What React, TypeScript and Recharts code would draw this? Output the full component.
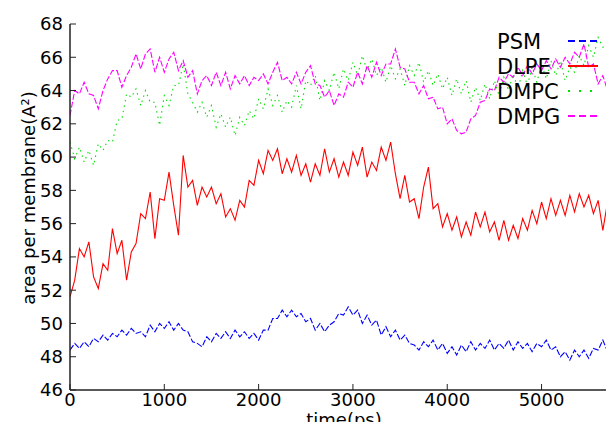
import { LineChart, Line, XAxis, YAxis, Legend } from "recharts";

// simulation time (ps), one sample every 50 ps
const TIME = [
  0, 50, 100, 150, 200, 250, 300, 350, 400, 450,
  500, 550, 600, 650, 700, 750, 800, 850, 900, 950,
  1000, 1050, 1100, 1150, 1200, 1250, 1300, 1350, 1400, 1450,
  1500, 1550, 1600, 1650, 1700, 1750, 1800, 1850, 1900, 1950,
  2000, 2050, 2100, 2150, 2200, 2250, 2300, 2350, 2400, 2450,
  2500, 2550, 2600, 2650, 2700, 2750, 2800, 2850, 2900, 2950,
  3000, 3050, 3100, 3150, 3200, 3250, 3300, 3350, 3400, 3450,
  3500, 3550, 3600, 3650, 3700, 3750, 3800, 3850, 3900, 3950,
  4000, 4050, 4100, 4150, 4200, 4250, 4300, 4350, 4400, 4450,
  4500, 4550, 4600, 4650, 4700, 4750, 4800, 4850, 4900, 4950,
  5000, 5050, 5100, 5150, 5200, 5250, 5300, 5350, 5400, 5450,
  5500, 5550, 5600, 5650, 5700, 5750,
];

// area per lipid (A^2)
const PSM = [
  48.4, 48.8, 48.5, 48.9, 48.6, 49.1, 48.9, 49.3, 49.0, 49.4,
  49.2, 49.6, 49.3, 49.7, 49.4, 49.5, 49.2, 49.9, 49.5, 50.0,
  49.7, 50.1, 49.6, 50.0, 49.6, 49.5, 48.9, 48.8, 48.6, 49.2,
  48.9, 49.4, 49.1, 49.5, 49.1, 49.6, 49.2, 49.5, 49.1, 49.4,
  49.0, 49.6, 49.6, 50.3, 50.3, 50.8, 50.4, 50.8, 50.4, 50.6,
  50.1, 50.3, 49.6, 50.0, 49.5, 49.9, 50.1, 50.6, 50.5, 51.0,
  50.5, 50.8, 50.0, 50.5, 49.9, 50.2, 49.3, 49.8, 49.2, 49.6,
  49.0, 49.3, 48.8, 48.7, 48.4, 48.9, 48.6, 49.0, 48.4, 48.8,
  48.2, 48.6, 48.1, 48.7, 48.3, 48.9, 48.4, 48.8, 48.5, 49.0,
  48.4, 48.8, 48.5, 49.0, 48.4, 48.9, 48.5, 48.8, 48.3, 48.8,
  48.6, 49.0, 48.4, 48.6, 48.0, 48.3, 47.8, 48.4, 48.0, 48.4,
  47.9, 48.5, 48.4, 49.0, 48.3, 48.7,
];

const DLPE = [
  51.6, 52.6, 54.5, 54.0, 54.9, 52.8, 52.1, 53.6, 53.2, 55.7,
  54.2, 55.0, 52.6, 54.3, 54.8, 56.6, 56.3, 57.9, 55.1, 57.5,
  57.4, 59.1, 57.1, 55.3, 60.1, 58.2, 58.6, 57.1, 58.2, 57.6,
  58.2, 57.2, 57.8, 56.4, 56.9, 56.2, 57.4, 57.0, 58.6, 58.3,
  59.8, 59.0, 60.4, 59.8, 60.5, 59.0, 59.9, 59.1, 60.1, 58.9,
  59.6, 58.5, 59.6, 58.9, 60.5, 59.1, 59.9, 58.8, 59.7, 58.9,
  60.3, 59.5, 60.6, 58.8, 59.7, 59.2, 60.6, 59.8, 60.9, 59.0,
  57.5, 58.9, 57.3, 57.5, 56.3, 58.2, 59.4, 56.9, 57.2, 55.8,
  56.6, 55.6, 56.4, 55.2, 56.1, 55.3, 56.7, 55.8, 56.7, 55.5,
  56.1, 55.0, 56.2, 55.0, 55.9, 55.1, 56.3, 55.6, 56.8, 56.0,
  57.3, 56.3, 57.5, 56.5, 57.4, 56.5, 57.7, 56.7, 57.8, 57.0,
  57.7, 56.6, 57.4, 55.6, 57.3, 58.1,
];

const DMPC = [
  60.9, 59.9, 60.6, 59.7, 60.4, 59.5, 60.8, 60.4, 61.0, 60.9,
  62.2, 62.3, 63.8, 63.6, 64.1, 63.1, 64.0, 63.3, 63.3, 61.9,
  63.7, 63.1, 64.3, 64.3, 65.6, 63.8, 63.3, 62.7, 63.3, 62.4,
  63.1, 61.8, 62.6, 61.8, 62.4, 61.3, 62.4, 61.9, 62.8, 62.3,
  63.5, 62.9, 64.1, 63.1, 63.7, 62.7, 63.4, 63.0, 64.3, 62.9,
  64.6, 64.3, 64.9, 63.4, 64.6, 64.0, 65.1, 64.1, 65.3, 64.6,
  65.7, 64.9, 66.1, 65.2, 65.9, 64.9, 65.4, 64.5, 65.5, 64.7,
  65.3, 64.3, 65.5, 64.9, 65.7, 64.5, 65.2, 64.3, 65.0, 64.1,
  64.8, 63.7, 64.7, 63.8, 64.6, 63.3, 64.2, 63.4, 64.4, 63.5,
  64.6, 63.7, 64.8, 64.0, 65.0, 64.1, 65.2, 64.3, 65.4, 64.5,
  65.6, 64.7, 65.8, 64.9, 65.8, 64.6, 65.4, 65.1, 66.1, 65.5,
  66.7, 66.0, 67.2, 66.6, 66.8, 65.7,
];

const DMPG = [
  62.5, 64.0, 63.8, 64.5, 63.8, 63.7, 62.9, 64.0, 64.7, 65.2,
  65.2, 64.2, 64.9, 65.4, 66.2, 65.3, 66.2, 66.5, 65.1, 66.0,
  65.1, 65.9, 66.3, 65.2, 65.8, 64.8, 65.2, 63.8, 64.6, 64.9,
  64.3, 65.1, 64.3, 65.1, 64.1, 64.9, 64.4, 64.9, 64.3, 64.8,
  64.6, 65.0, 64.4, 65.1, 65.7, 64.6, 64.8, 64.4, 65.1, 64.4,
  65.1, 65.5, 64.4, 64.3, 63.6, 64.0, 63.1, 63.8, 63.6, 64.5,
  64.2, 65.1, 64.4, 65.5, 64.8, 65.7, 64.9, 65.6, 65.6, 66.5,
  65.4, 65.3, 64.5, 64.5, 63.8, 64.3, 63.5, 63.6, 62.9, 63.0,
  62.0, 62.3, 61.6, 61.4, 61.5, 62.3, 62.5, 63.3, 63.4, 64.1,
  64.0, 64.8, 64.5, 65.0, 64.8, 65.4, 64.9, 65.5, 65.0, 65.6,
  65.2, 65.8, 65.3, 65.9, 65.4, 66.0, 65.6, 66.3, 66.0, 66.8,
  65.4, 65.6, 64.4, 64.9, 64.0, 65.0,
];

const X_TICKS = [0, 1000, 2000, 3000, 4000, 5000];
const Y_TICKS = [46, 48, 50, 52, 54, 56, 58, 60, 62, 64, 66, 68];

const SERIES = [
  { name: "PSM", values: PSM, color: "#0000ff", dash: "6 2", keyDash: "7 4" },
  { name: "DLPE", values: DLPE, color: "#ff0000", dash: undefined, keyDash: undefined },
  { name: "DMPC", values: DMPC, color: "#00e000", dash: "1.5 4", keyDash: "2 9" },
  { name: "DMPG", values: DMPG, color: "#ff00ff", dash: "6 2", keyDash: "7 4" },
];

const FONT = "'DejaVu Sans', sans-serif";
const BORDER = "#222";

const chartData = TIME.map((t, i) => {
  const row: Record<string, number> = { time: t };
  SERIES.forEach((s) => {
    row[s.name] = s.values[i];
  });
  return row;
});

function KeyBox() {
  return (
    <div style={{ fontFamily: FONT, fontSize: 21, color: "#000" }}>
      {SERIES.map((s) => (
        <div
          key={s.name}
          style={{ display: "flex", alignItems: "center", height: 25, lineHeight: "25px" }}
        >
          <span style={{ width: 70 }}>{s.name}</span>
          <svg width={32} height={25}>
            <line
              x1={1}
              x2={31}
              y1={11}
              y2={11}
              stroke={s.color}
              strokeWidth={2}
              strokeDasharray={s.keyDash}
            />
          </svg>
        </div>
      ))}
    </div>
  );
}

const yLabel = () => (
  <text
    x={28}
    y={198}
    transform="rotate(-90 28 198)"
    textAnchor="middle"
    dominantBaseline="central"
    fontFamily={FONT}
    fontSize={18}
    fill="#000"
  >
    area per membrane(A²)
  </text>
);

const xLabel = () => (
  <text x={344} y={426} textAnchor="middle" fontFamily={FONT} fontSize={18} fill="#000">
    time(ps)
  </text>
);

const tickStyle = { fill: "#000", fontSize: 18, fontFamily: FONT };
const noLabel = () => <g />;

export default function App() {
  return (
    <div
      style={{ width: 614, height: 430, overflow: "hidden", margin: -8, position: "relative", background: "#fff" }}
    >
      <LineChart
        width={640}
        height={430}
        data={chartData}
        margin={{ top: 24, right: 23, left: 0, bottom: 0 }}
      >
        <XAxis
          dataKey="time"
          type="number"
          domain={[0, 5800]}
          ticks={X_TICKS}
          allowDataOverflow
          height={40}
          tickSize={-6}
          tickMargin={9}
          tick={tickStyle}
          axisLine={{ stroke: BORDER, strokeWidth: 1.5 }}
          tickLine={{ stroke: BORDER }}
          label={xLabel}
        />
        <XAxis
          xAxisId="top"
          orientation="top"
          type="number"
          domain={[0, 5800]}
          ticks={X_TICKS}
          allowDataOverflow
          height={0}
          mirror
          tickSize={6}
          tick={noLabel}
          axisLine={{ stroke: BORDER, strokeWidth: 1.5 }}
          tickLine={{ stroke: BORDER }}
        />
        <YAxis
          type="number"
          domain={[46, 68]}
          ticks={Y_TICKS}
          allowDataOverflow
          width={70}
          tickSize={-6}
          tickMargin={13}
          tick={tickStyle}
          axisLine={{ stroke: BORDER, strokeWidth: 1.5 }}
          tickLine={{ stroke: BORDER }}
          label={yLabel}
        />
        <YAxis
          yAxisId="right"
          orientation="right"
          type="number"
          domain={[46, 68]}
          ticks={Y_TICKS}
          allowDataOverflow
          width={0}
          mirror
          tickSize={6}
          tick={noLabel}
          axisLine={{ stroke: BORDER, strokeWidth: 1.5 }}
          tickLine={{ stroke: BORDER }}
        />
        <Legend
          layout="horizontal"
          verticalAlign="middle"
          align="center"
          wrapperStyle={{ left: 497, top: 30, width: 110, height: 100 }}
          content={() => <KeyBox />}
        />
        {SERIES.map((s) => (
          <Line
            key={s.name}
            dataKey={s.name}
            name={s.name}
            type="linear"
            stroke={s.color}
            strokeWidth={1.1}
            strokeDasharray={s.dash}
            dot={false}
            activeDot={false}
            isAnimationActive={false}
          />
        ))}
      </LineChart>
    </div>
  );
}
